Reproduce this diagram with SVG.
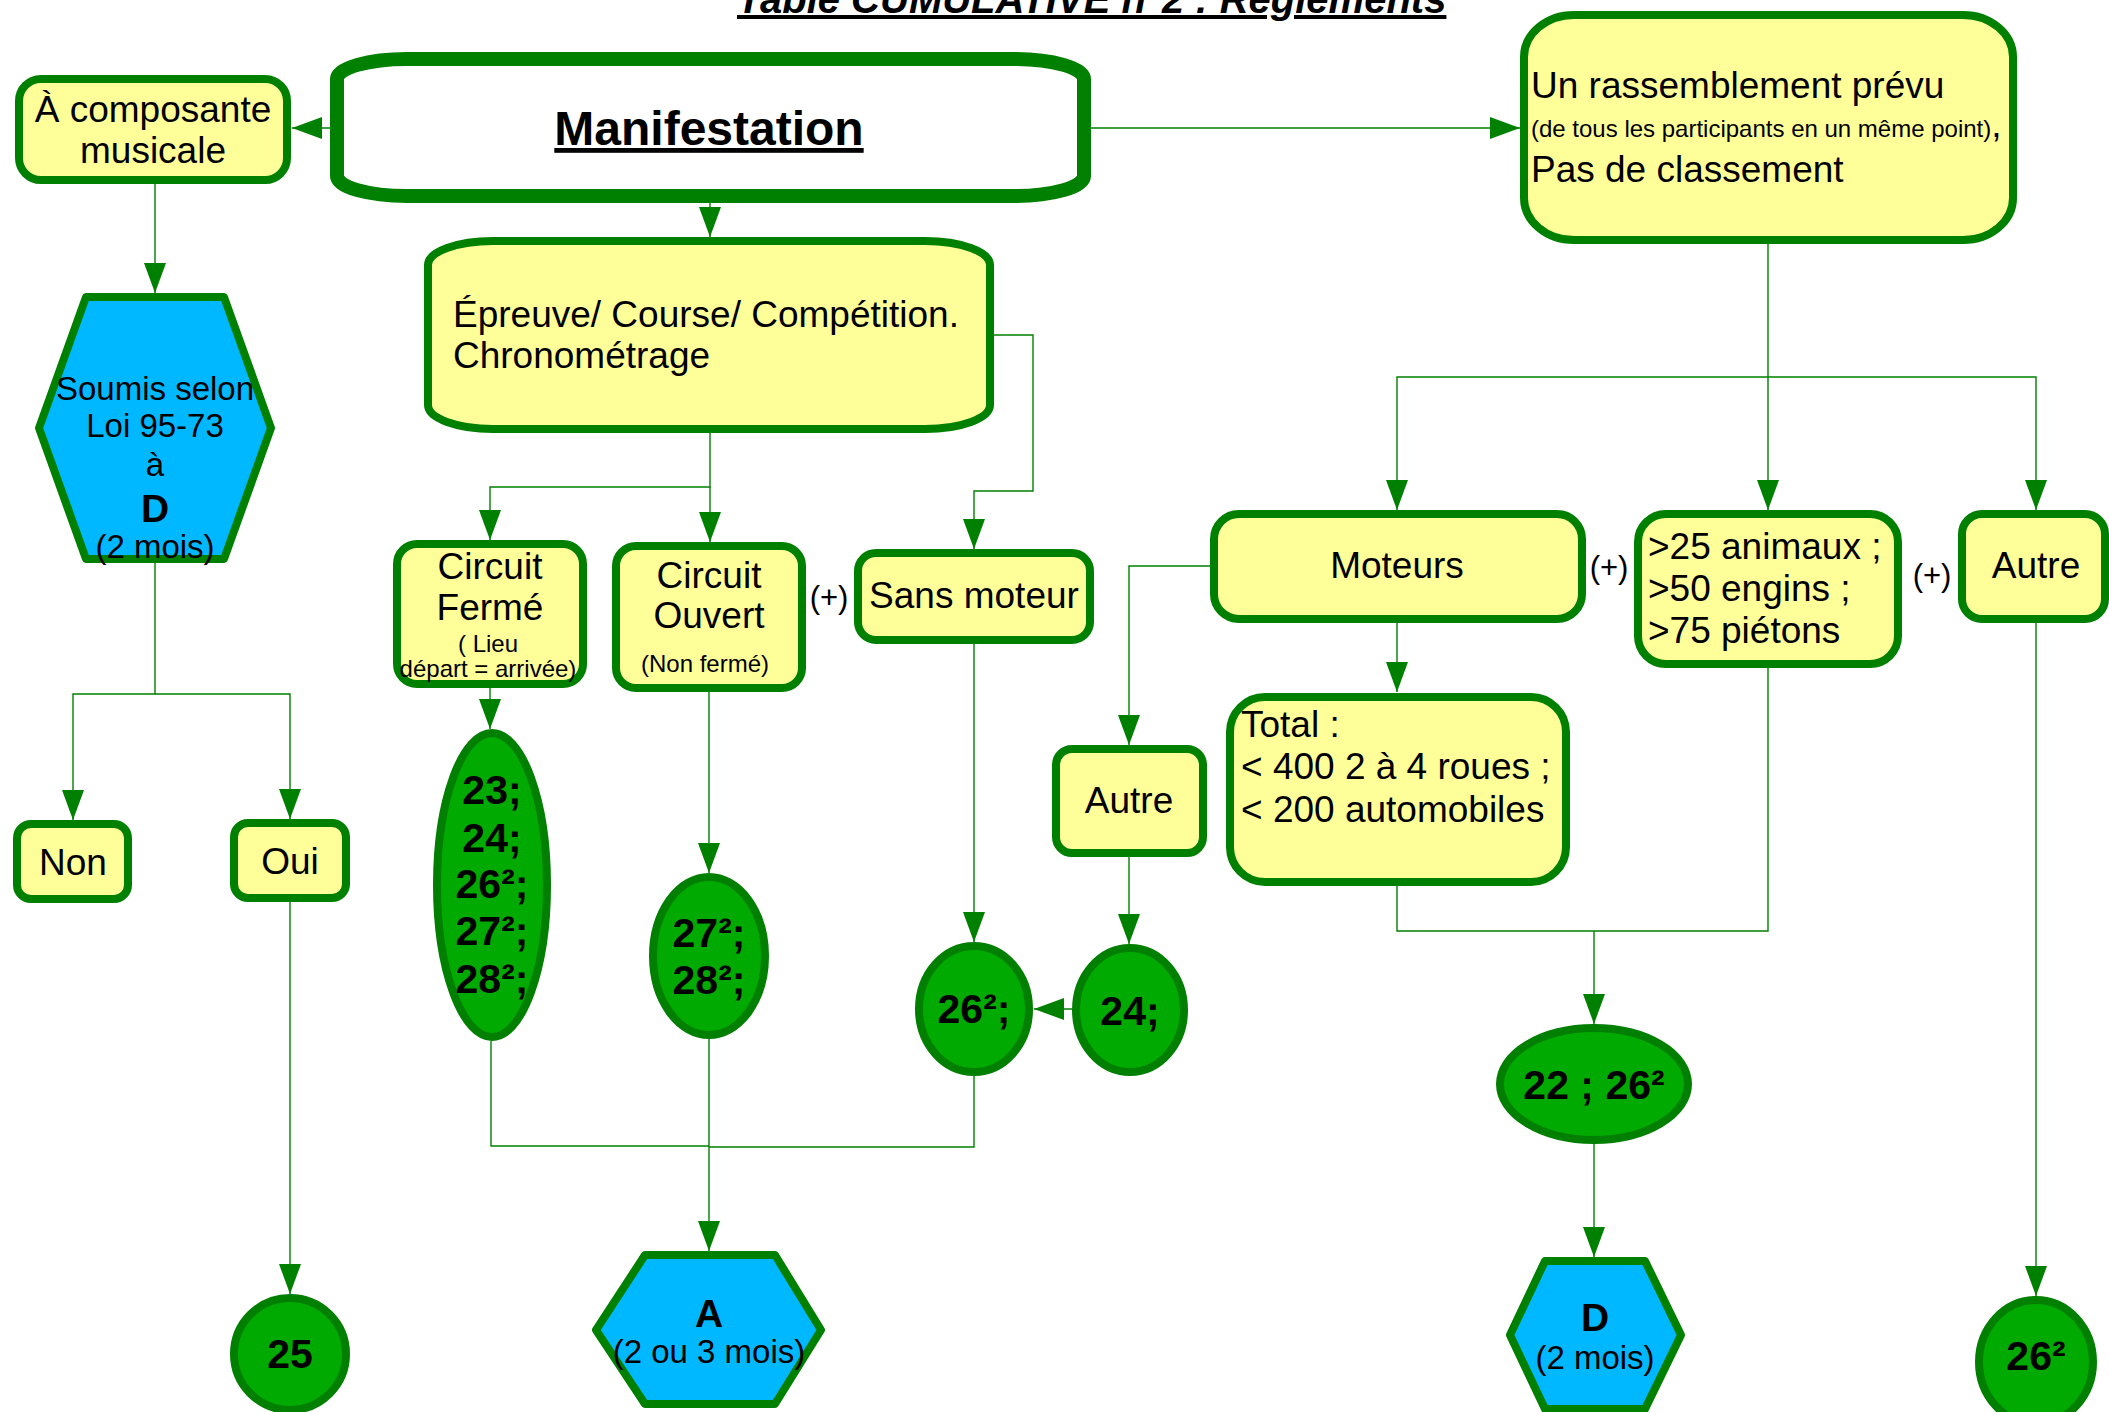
<svg xmlns="http://www.w3.org/2000/svg" width="2109" height="1412" viewBox="0 0 2109 1412">
<style>
.box{fill:#ffff99;stroke:#008000;stroke-width:8}
.hex{fill:#00b8ff;stroke:#008000;stroke-width:8;stroke-linejoin:round}
.ell{fill:#00aa00;stroke:#007f00;stroke-width:8}
text{font-family:"Liberation Sans",Arial,sans-serif;font-size:37px;fill:#000}
.c{text-anchor:middle}
.s{font-size:24px}
.p{font-size:31px}
.h{font-size:33px}
.b{font-weight:bold;font-size:41px}
.conn path{fill:none;stroke:#008000;stroke-width:1.4}
</style>
<defs>
<marker id="ah" markerUnits="userSpaceOnUse" markerWidth="30" markerHeight="22" refX="30" refY="11" orient="auto" viewBox="0 0 30 22">
<path d="M0,0 L30,11 L0,22 z" fill="#008000"/>
</marker>
</defs>
<rect width="2109" height="1412" fill="#fff"/>

<text id="title" x="737" y="13" style="font-size:40px;font-weight:bold;font-style:italic;text-decoration:underline">Table CUMULATIVE n°2 : Règlements</text>

<g id="connectors" class="conn">
<path d="M330,128 H292" marker-end="url(#ah)"/>
<path d="M1091,128 H1520" marker-end="url(#ah)"/>
<path d="M710,203 V237" marker-end="url(#ah)"/>
<path d="M155,184 V293" marker-end="url(#ah)"/>
<path d="M155,563 V694 H73 V820" marker-end="url(#ah)"/>
<path d="M155,694 H290 V819" marker-end="url(#ah)"/>
<path d="M290,902 V1294" marker-end="url(#ah)"/>
<path d="M710,433 V487 H490 V540" marker-end="url(#ah)"/>
<path d="M710,487 V542" marker-end="url(#ah)"/>
<path d="M994,335 H1033 V491 H974 V549" marker-end="url(#ah)"/>
<path d="M490,688 V729" marker-end="url(#ah)"/>
<path d="M709,692 V873" marker-end="url(#ah)"/>
<path d="M974,644 V942" marker-end="url(#ah)"/>
<path d="M1210,566 H1129 V745" marker-end="url(#ah)"/>
<path d="M1129,857 V944" marker-end="url(#ah)"/>
<path d="M1072,1009 H1034" marker-end="url(#ah)"/>
<path d="M491,1041 V1146 H709"/>
<path d="M974,1076 V1147 H709"/>
<path d="M709,1039 V1251" marker-end="url(#ah)"/>
<path d="M1768,244 V377 H1397 V510" marker-end="url(#ah)"/>
<path d="M1768,377 V510" marker-end="url(#ah)"/>
<path d="M1768,377 H2036 V510" marker-end="url(#ah)"/>
<path d="M1397,623 V692" marker-end="url(#ah)"/>
<path d="M1397,886 V931 H1768 V668"/>
<path d="M1594,931 V1024" marker-end="url(#ah)"/>
<path d="M1594,1144 V1257" marker-end="url(#ah)"/>
<path d="M2036,623 V1296" marker-end="url(#ah)"/>
</g>

<g id="manifestation">
<rect x="337" y="59" width="747" height="137" rx="70" ry="20" fill="#fff" stroke="#008000" stroke-width="14"/>
<text class="c" x="709" y="145" style="font-size:48px;font-weight:bold;text-decoration:underline">Manifestation</text>
</g>

<g id="composante">
<rect class="box" x="19" y="79" width="268" height="101" rx="22"/>
<text class="c" x="153" y="122">À composante</text>
<text class="c" x="153" y="163">musicale</text>
</g>

<g id="rassemblement">
<rect class="box" x="1524" y="15" width="489" height="225" rx="50" ry="42"/>
<text x="1531" y="98">Un rassemblement prévu</text>
<text x="1531" y="137"><tspan class="s">(de tous les participants en un même point)</tspan>,</text>
<text x="1531" y="182">Pas de classement</text>
</g>

<g id="epreuve">
<rect class="box" x="428" y="241" width="562" height="188" rx="65" ry="24"/>
<text x="453" y="327">Épreuve/ Course/ Compétition.</text>
<text x="453" y="368">Chronométrage</text>
</g>

<g id="soumis">
<polygon class="hex" points="86,297 224,297 271,428 224,559 86,559 39,428"/>
<text class="c h" x="155" y="400">Soumis selon</text>
<text class="c h" x="155" y="437">Loi 95-73</text>
<text class="c h" x="155" y="476">à</text>
<text class="c" x="155" y="522" style="font-weight:bold;font-size:39px">D</text>
<text class="c h" x="155" y="558">(2 mois)</text>
</g>

<g id="non">
<rect class="box" x="17" y="824" width="111" height="75" rx="14"/>
<text class="c" x="73" y="875">Non</text>
</g>

<g id="oui">
<rect class="box" x="234" y="823" width="112" height="75" rx="14"/>
<text class="c" x="290" y="874">Oui</text>
</g>

<g id="n25">
<ellipse class="ell" cx="290" cy="1354" rx="56" ry="56"/>
<text class="c b" x="290" y="1368">25</text>
</g>

<g id="circuit-ferme">
<rect class="box" x="397" y="544" width="186" height="140" rx="20"/>
<text class="c" x="490" y="579">Circuit</text>
<text class="c" x="490" y="620">Fermé</text>
<text class="c s" x="488" y="652">( Lieu</text>
<text class="c s" x="488" y="677">départ = arrivée)</text>
</g>

<g id="circuit-ouvert">
<rect class="box" x="616" y="546" width="186" height="142" rx="20"/>
<text class="c" x="709" y="588">Circuit</text>
<text class="c" x="709" y="628">Ouvert</text>
<text class="c s" x="705" y="672">(Non fermé)</text>
</g>

<text id="plus1" class="c p" x="829" y="608">(+)</text>

<g id="sans-moteur">
<rect class="box" x="858" y="553" width="232" height="87" rx="18"/>
<text class="c" x="974" y="608">Sans moteur</text>
</g>

<g id="moteurs">
<rect class="box" x="1214" y="514" width="368" height="105" rx="25"/>
<text class="c" x="1397" y="578">Moteurs</text>
</g>

<text id="plus2" class="c p" x="1609" y="578">(+)</text>

<g id="seuils">
<rect class="box" x="1638" y="514" width="260" height="150" rx="28"/>
<text x="1648" y="559">&gt;25 animaux ;</text>
<text x="1648" y="601">&gt;50 engins ;</text>
<text x="1648" y="643">&gt;75 piétons</text>
</g>

<text id="plus3" class="c p" x="1932" y="586">(+)</text>

<g id="autre-droite">
<rect class="box" x="1962" y="514" width="143" height="105" rx="20"/>
<text class="c" x="2036" y="578">Autre</text>
</g>

<g id="autre-milieu">
<rect class="box" x="1056" y="749" width="147" height="104" rx="16"/>
<text class="c" x="1129" y="813">Autre</text>
</g>

<g id="total">
<rect class="box" x="1230" y="697" width="336" height="185" rx="35"/>
<text x="1241" y="737">Total :</text>
<text x="1241" y="779">&lt; 400 2 à 4 roues ;</text>
<text x="1241" y="822">&lt; 200 automobiles</text>
</g>

<g id="e-ferme">
<ellipse class="ell" cx="492" cy="885" rx="55" ry="152"/>
<text class="c b" x="492" y="804">23;</text>
<text class="c b" x="492" y="852">24;</text>
<text class="c b" x="492" y="898">26²;</text>
<text class="c b" x="492" y="945">27²;</text>
<text class="c b" x="492" y="993">28²;</text>
</g>

<g id="e-ouvert">
<ellipse class="ell" cx="709" cy="956" rx="56" ry="79"/>
<text class="c b" x="709" y="947">27²;</text>
<text class="c b" x="709" y="994">28²;</text>
</g>

<g id="e-sans-moteur">
<ellipse class="ell" cx="974" cy="1009" rx="55" ry="63"/>
<text class="c b" x="974" y="1023">26²;</text>
</g>

<g id="e-autre">
<ellipse class="ell" cx="1130" cy="1010" rx="54" ry="62"/>
<text class="c b" x="1130" y="1025">24;</text>
</g>

<g id="e-22">
<ellipse class="ell" cx="1594" cy="1084" rx="94" ry="56"/>
<text class="c b" x="1594" y="1099">22 ; 26²</text>
</g>

<g id="e-26">
<ellipse class="ell" cx="2036" cy="1362" rx="57" ry="62"/>
<text class="c b" x="2036" y="1370">26²</text>
</g>

<g id="hex-a">
<polygon class="hex" points="645,1255 775,1255 821,1330 775,1404 645,1404 596,1330"/>
<text class="c" x="709" y="1327" style="font-weight:bold;font-size:39px">A</text>
<text class="c h" x="709" y="1363">(2 ou 3 mois)</text>
</g>

<g id="hex-d">
<polygon class="hex" points="1545,1261 1645,1261 1681,1335 1645,1409 1545,1409 1510,1335"/>
<text class="c" x="1595" y="1331" style="font-weight:bold;font-size:39px">D</text>
<text class="c h" x="1595" y="1369">(2 mois)</text>
</g>
</svg>
